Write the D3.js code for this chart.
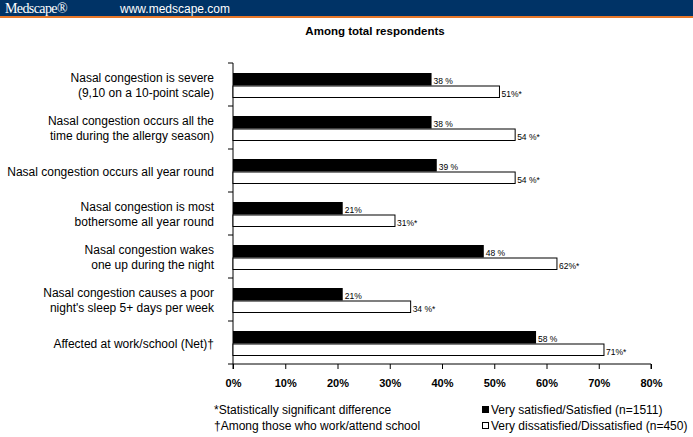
<!DOCTYPE html>
<html><head><meta charset="utf-8">
<script src="https://cdn.jsdelivr.net/npm/d3@7"></script>
<style>body{margin:0;background:#fff;}svg{display:block;font-family:"Liberation Sans",Arial,sans-serif;}</style>
</head><body>
<svg id="c" width="693" height="437"></svg>
<script>
const categories = [
  ["Nasal congestion is severe", "(9,10 on a 10-point scale)"],
  ["Nasal congestion occurs all the", "time during the allergy season)"],
  ["Nasal congestion occurs all year round"],
  ["Nasal congestion is most", "bothersome all year round"],
  ["Nasal congestion wakes", "one up during the night"],
  ["Nasal congestion causes a poor", "night's sleep 5+ days per week"],
  ["Affected at work/school (Net)\u2020"]
];
const satisfied = [38, 38, 39, 21, 48, 21, 58];
const dissatisfied = [51, 54, 54, 31, 62, 34, 71];
const satLabels = ["38 %", "38 %", "39 %", "21%", "48 %", "21%", "58 %"];
const disLabels = ["51%*", "54 %*", "54 %*", "31%*", "62%*", "34 %*", "71%*"];
const tickValues = [0, 10, 20, 30, 40, 50, 60, 70, 80];
const seriesNames = ["Very satisfied/Satisfied (n=1511)", "Very dissatisfied/Dissatisfied (n=450)"];
const footnotes = ["*Statistically significant difference", "\u2020Among those who work/attend school"];

const svg = d3.select("#c");
// header
svg.append("rect").attr("x",0).attr("y",0).attr("width",693).attr("height",16).attr("fill","#003366");
svg.append("rect").attr("x",0).attr("y",16).attr("width",693).attr("height",2).attr("fill","#e8782a");
svg.append("text").attr("x",5).attr("y",12.5).attr("fill","#fff").attr("font-family","Liberation Serif, Times New Roman, serif").attr("font-size",14).attr("letter-spacing",-0.6).text("Medscape\u00ae");
svg.append("text").attr("x",120).attr("y",12.5).attr("fill","#fff").attr("font-size",12).text("www.medscape.com");

svg.append("text").attr("x",375).attr("y",35).attr("text-anchor","middle").attr("font-size",11.5).attr("font-weight","bold").text("Among total respondents");

const x = d3.scaleLinear().domain([0,80]).range([233,651]);
const y = d3.scaleBand().domain(d3.range(categories.length)).range([63,364]);
const barH = 12.5;

// axes
svg.append("g").attr("transform","translate(0,364)")
  .call(d3.axisBottom(x).tickValues(tickValues).tickSize(5).tickFormat(d=>d+"%"))
  .call(g=>{g.select(".domain").attr("d","M233,5V0H651V5").attr("stroke","#000");
    g.selectAll(".tick line").attr("y2",5).attr("stroke","#000");
    g.selectAll(".tick text").attr("y",15).attr("font-size",11).attr("font-weight","bold").attr("font-family","Liberation Sans, Arial, sans-serif").attr("fill","#000");});

const yAxisTicks = d3.range(categories.length+1).map(i=>63+i*y.step());
svg.append("line").attr("x1",233).attr("x2",233).attr("y1",63).attr("y2",364).attr("stroke","#000");
svg.selectAll(".yt").data(yAxisTicks).join("line").attr("x1",228).attr("x2",233).attr("y1",d=>d).attr("y2",d=>d).attr("stroke","#000");

const g = svg.append("g");
categories.forEach((c,i)=>{
  const by = y(i)+10;
  g.append("rect").attr("x",x(0)).attr("y",by).attr("width",x(satisfied[i])-x(0)).attr("height",barH).attr("fill","#000");
  g.append("rect").attr("x",x(0)).attr("y",by+barH+0.5).attr("width",x(dissatisfied[i])-x(0)).attr("height",barH-1).attr("fill","#fff").attr("stroke","#000").attr("stroke-width",1);
  g.append("text").attr("x",x(satisfied[i])+2).attr("y",by+barH-1.5).attr("font-size",8.5).text(satLabels[i]);
  g.append("text").attr("x",x(dissatisfied[i])+2).attr("y",by+2*barH-1.5).attr("font-size",8.5).text(disLabels[i]);
  const cy = y(i)+y.bandwidth()/2 + 1;
  const t = g.append("text").attr("text-anchor","end").attr("font-size",12).attr("fill","#000");
  c.forEach((line,j)=>{
    t.append("tspan").attr("x",214).attr("y",cy + (j-(c.length-1)/2)*15 + 4).text(line);
  });
});

// footnotes
footnotes.forEach((f,i)=>svg.append("text").attr("x",214).attr("y",414+i*16).attr("font-size",12).text(f));
// legend
seriesNames.forEach((s,i)=>{
  svg.append("rect").attr("x",482.5).attr("y",406.5+i*16).attr("width",6).attr("height",6).attr("fill",i===0?"#000":"#fff").attr("stroke","#000");
  svg.append("text").attr("x",491).attr("y",414+i*16).attr("font-size",12).text(s);
});
</script>
</body></html>
